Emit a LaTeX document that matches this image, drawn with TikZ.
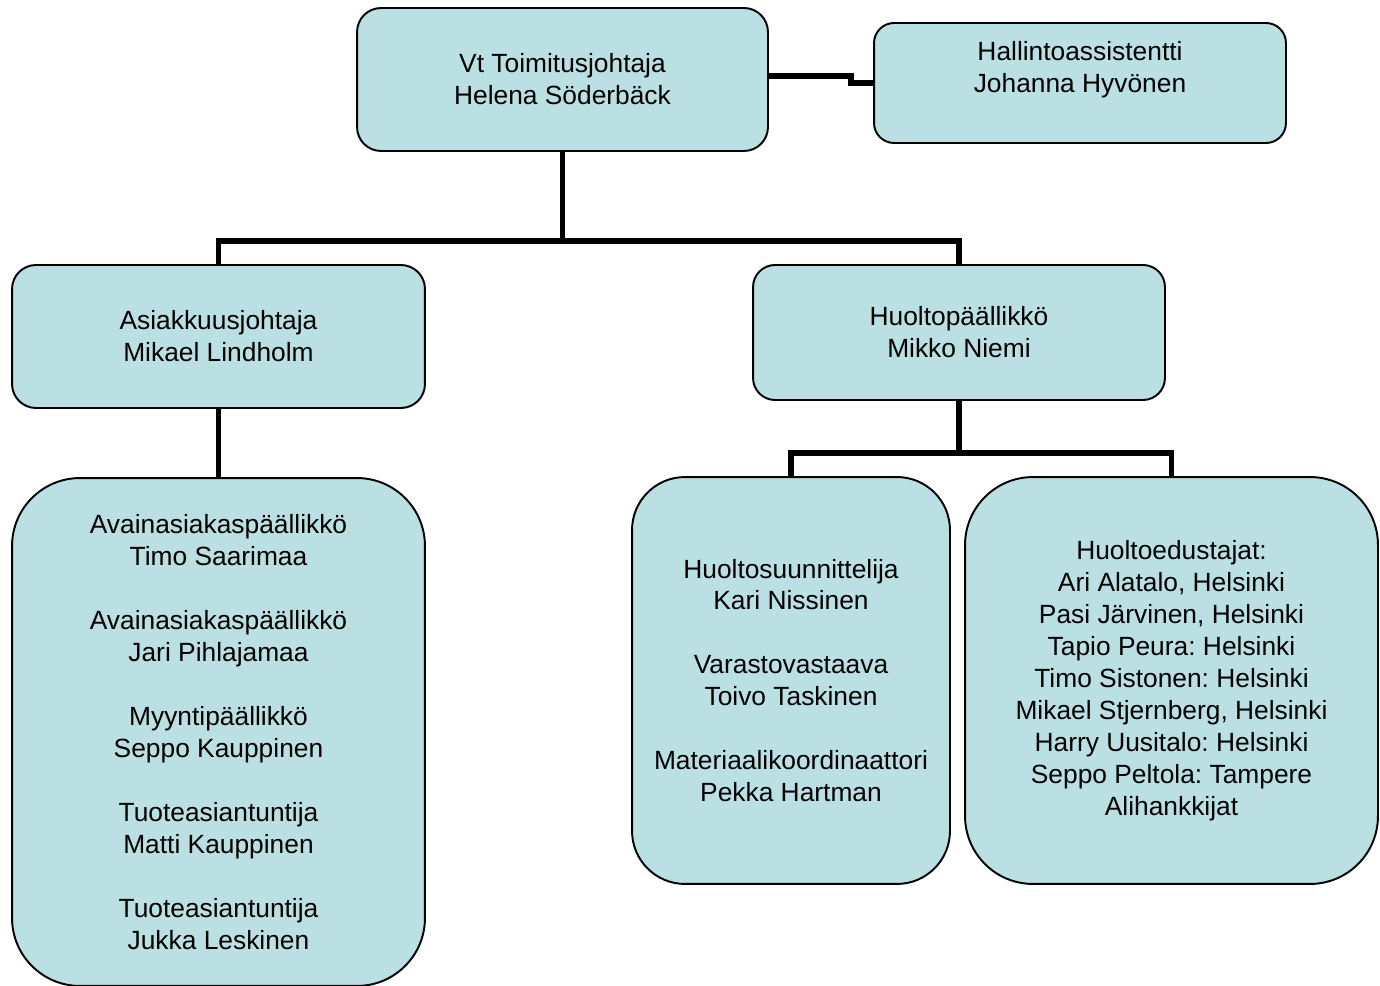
\documentclass[tikz,border=0pt]{standalone}
\usepackage{fontspec}
\setmainfont{Liberation Sans}
\frenchspacing
\usetikzlibrary{positioning, calc}
\definecolor{BoxFill}{RGB}{187,224,227}
\tikzstyle{Box} = [
draw=black,
line width=1.1pt,
fill=BoxFill,
align=center,
font=\fontsize{15}{18.2}\selectfont]
\tikzstyle{Link} = [
line width=3.2pt]

\begin{document}
\begin{tikzpicture}[x=0.02cm, y=-0.02cm]
    \useasboundingbox (0,0) rectangle (1380,986);
    \node (1) [Box, minimum width=8.22cm, minimum height=2.86cm, rounded corners=0.48cm] at (562.5,79.5) {Vt Toimitusjohtaja\\Helena Söderbäck};
    \node (2) [Box, minimum width=8.24cm, minimum height=2.4cm, rounded corners=0.4cm] at (1080,83) {Hallintoassistentti\\Johanna Hyvönen\\\mbox{}};
    \node (3) [Box, minimum width=8.26cm, minimum height=2.86cm, rounded corners=0.48cm] at (218.5,336.5) {Asiakkuusjohtaja\\Mikael Lindholm};
    \node (4) [Box, minimum width=8.24cm, minimum height=2.7cm, rounded corners=0.44cm] at (959,332.5) {Huoltopäällikkö\\Mikko Niemi};
    \node (5) [Box, minimum width=8.26cm, minimum height=10.16cm, rounded corners=1.36cm] at (218.5,732) {Avainasiakaspäällikkö\\Timo Saarimaa\\[18.2pt]Avainasiakaspäällikkö\\Jari Pihlajamaa\\[18.2pt]Myyntipäällikkö\\Seppo Kauppinen\\[18.2pt]Tuoteasiantuntija\\Matti Kauppinen\\[18.2pt]Tuoteasiantuntija\\Jukka Leskinen};
    \node (6) [Box, minimum width=6.36cm, minimum height=8.14cm, rounded corners=1.06cm] at (791,680.5) {Huoltosuunnittelija\\Kari Nissinen\\[18.2pt]Varastovastaava\\Toivo Taskinen\\[18.2pt]Materiaalikoordinaattori\\Pekka Hartman};
    \node (7) [Box, minimum width=8.26cm, minimum height=8.14cm, rounded corners=1.36cm] at (1171.5,680.5) {Huoltoedustajat:\\Ari Alatalo, Helsinki\\Pasi Järvinen, Helsinki\\Tapio Peura: Helsinki\\Timo Sistonen: Helsinki\\Mikael Stjernberg, Helsinki\\Harry Uusitalo: Helsinki\\Seppo Peltola: Tampere\\Alihankkijat};
    \coordinate [below=1.78cm of 1.south] (8);
    \coordinate [below=1.04cm of 4.south] (9);
    \draw[Link] ([yshift=0.07cm]1.east) -- ++(82,0) |- (2.west);
    \draw[Link] (1.south) -- (8);
    \draw[Link] (3.north) |- (8) -| (4.north);
    \draw[Link] (3.south) -- (5.north);
    \draw[Link] (4.south) -- (9);
    \draw[Link] (6.north) |- (9) -| (7.north);
\end{tikzpicture}
\end{document}
